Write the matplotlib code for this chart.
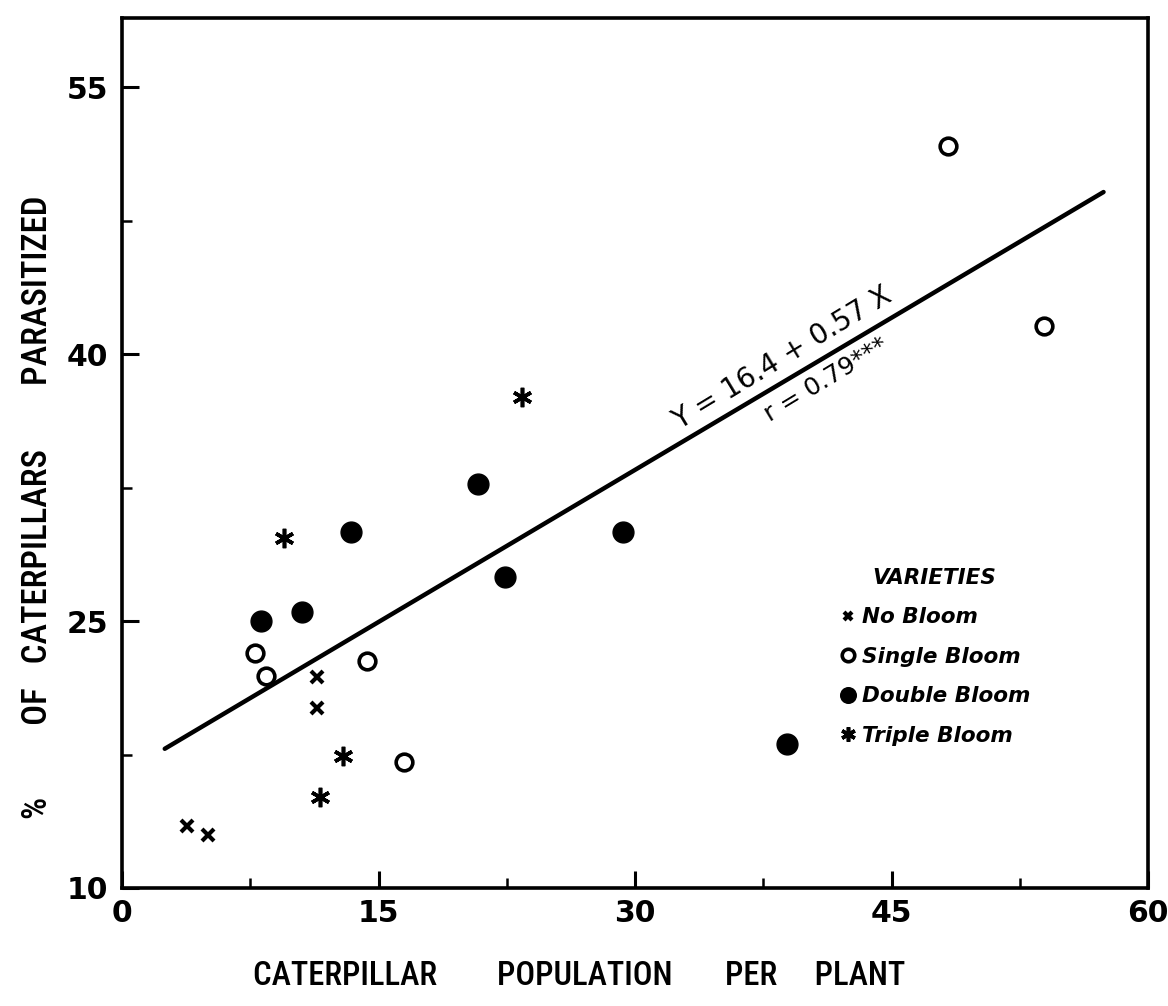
import matplotlib
matplotlib.use("Agg")
import matplotlib.pyplot as plt
from matplotlib.ticker import FixedLocator
from matplotlib import font_manager
import numpy as np

# ---- data ----
no_bloom_x = [3.8, 5.0, 11.4, 11.4]
no_bloom_y = [13.5, 13.0, 21.85, 20.1]

single_x = [7.8, 8.4, 14.35, 16.5, 48.3, 53.9]
single_y = [23.2, 21.9, 22.75, 17.1, 51.7, 41.6]

double_x = [8.1, 10.5, 13.4, 20.8, 22.4, 29.3, 38.9]
double_y = [25.0, 25.5, 30.0, 32.7, 27.5, 30.0, 18.1]

triple_x = [9.5, 11.6, 12.9, 23.4]
triple_y = [29.7, 15.1, 17.4, 37.6]

reg_intercept = 16.4
reg_slope = 0.57
reg_x_range = [2.5, 57.4]

x_ticks = [0, 15, 30, 45, 60]
x_minor = [7.5, 22.5, 37.5, 52.5]
y_ticks = [10, 25, 40, 55]
y_minor = [17.5, 32.5, 47.5]

legend_labels = ["No Bloom", "Single Bloom", "Double Bloom", "Triple Bloom"]

# ---- fonts ----
names = {f.name for f in font_manager.fontManager.ttflist}
cond_font = "DejaVu Sans"
for cand in ["Liberation Sans Narrow", "DejaVu Sans Condensed", "Roboto Condensed"]:
    if cand in names:
        cond_font = cand
        break
plt.rcParams['font.family'] = ['DejaVu Sans']
wide = ['DejaVu Sans']
narrow = [cond_font, 'DejaVu Sans']

fig = plt.figure(figsize=(11.68, 10.06), dpi=100)
ax = fig.add_axes([122/1168, 1 - 888/1006, (1148-122)/1168, (888-18)/1006])

ax.set_xlim(0, 60)
ax.set_ylim(10, 58.9)

k = 'black'
ax.plot(no_bloom_x, no_bloom_y, linestyle='none', marker='x', ms=8, mew=3, color=k,
        label=legend_labels[0])
ax.plot(single_x, single_y, linestyle='none', marker='o', ms=12, mew=2.6, mfc='white',
        mec=k, label=legend_labels[1])
ax.plot(double_x, double_y, linestyle='none', marker='o', ms=15, color=k,
        label=legend_labels[2])
ax.plot(triple_x, triple_y, linestyle='none', marker=(6, 2, 0), ms=14, mew=2.6, color=k,
        label=legend_labels[3])

xr = np.array(reg_x_range)
ax.plot(xr, reg_intercept + reg_slope * xr, color=k, lw=3.2, solid_capstyle='round')

# equation text along the line
ang = 31.2
xe = 39.0
ax.text(xe, reg_intercept + reg_slope * xe + 0.5,
        "Y = 16.4 + 0.57 X", rotation=ang, rotation_mode='anchor',
        ha='center', va='bottom', fontsize=20, family=wide)
xr2 = 40.8
ax.text(xr2, reg_intercept + reg_slope * xr2 - 0.5,
        "r = 0.79***", rotation=ang, rotation_mode='anchor',
        ha='center', va='top', fontsize=18, family=wide)

# ticks
ax.set_xticks(x_ticks)
ax.set_yticks(y_ticks)
ax.xaxis.set_minor_locator(FixedLocator(x_minor))
ax.yaxis.set_minor_locator(FixedLocator(y_minor))
ax.tick_params(axis='both', which='major', direction='in', length=12, width=2.2,
               labelsize=21.5, pad=10)
ax.tick_params(axis='both', which='minor', direction='in', length=7, width=1.8)
ax.tick_params(axis='x', which='major', pad=8)
for lab in ax.get_xticklabels() + ax.get_yticklabels():
    lab.set_fontweight('bold')
    lab.set_family(wide)

for s in ax.spines.values():
    s.set_linewidth(2.6)

ax.set_xlabel("CATERPILLAR        POPULATION       PER     PLANT", fontsize=23.5,
              fontweight='medium', family=narrow, labelpad=23)
ax.xaxis.label.set_x((579 - 122) / 1026)
ax.set_ylabel("%         OF   CATERPILLARS        PARASITIZED", fontsize=25,
              fontweight='medium', family=narrow, labelpad=9)
ax.yaxis.label.set_y((888 - 507) / 870)

leg = ax.legend(loc='upper left', bbox_to_anchor=(0.68, 0.39), frameon=False,
                title="VARIETIES", handlelength=0.8, handletextpad=0.25,
                labelspacing=0.9, markerscale=0.75,
                prop={'style': 'italic', 'weight': 'bold', 'size': 15.5, 'family': wide},
                title_fontproperties={'style': 'italic', 'weight': 'bold', 'size': 15.5,
                                      'family': wide})

fig.savefig("out.png", dpi=100)
